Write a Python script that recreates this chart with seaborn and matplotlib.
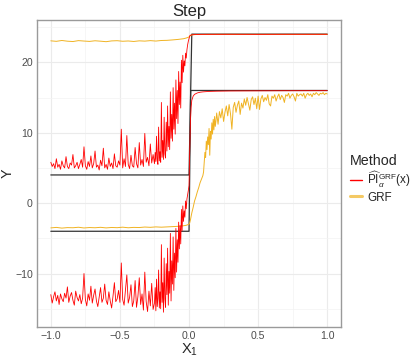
import numpy as np
import pandas as pd
import matplotlib
matplotlib.use("Agg")
import matplotlib.pyplot as plt
from matplotlib.lines import Line2D
import seaborn as sns

sns.set_theme(style="white")
plt.rcParams["font.family"] = ["Liberation Sans", "DejaVu Sans"]
plt.rcParams["mathtext.fontset"] = "custom"
plt.rcParams["mathtext.rm"] = "Liberation Sans"
plt.rcParams["mathtext.it"] = "Liberation Sans:italic"
plt.rcParams["mathtext.bf"] = "Liberation Sans:bold"

# ---------------- data ----------------
x_left = list(np.round(np.arange(-1.00, -0.255, 0.01), 3)) + list(np.round(np.arange(-0.25, -0.0025, 0.005), 3))

pi_up_left = [
    5.8, 5.2, 5.6, 4.9, 6.3, 5.1, 5.5, 4.8, 6.0, 5.3,
    5.0, 6.6, 5.2, 4.9, 5.7, 5.4, 6.9, 5.0, 5.3, 5.8,
    4.9, 5.5, 6.2, 5.1, 8.0, 5.3, 4.8, 5.9, 5.2, 6.7,
    5.0, 5.6, 7.4, 5.1, 5.4, 4.7, 6.1, 5.3, 7.8, 5.0,
    5.5, 4.8, 6.4, 5.2, 5.7, 4.9, 7.0, 5.3, 5.1, 6.0,
    5.4, 10.5, 5.0, 6.3, 5.2, 9.6, 5.5, 4.9, 6.8, 5.3,
    5.1, 7.9, 5.6, 5.0, 8.6, 5.4, 6.2, 5.2, 9.9, 5.8,
    6.5, 5.3, 8.4, 5.7, 6.9,
    5.6, 7.2, 5.9, 9.5, 6.1, 5.5, 10.8, 6.0, 7.3, 5.8,
    14.3, 6.5, 8.9, 6.2, 12.2, 7.0, 6.4, 11.5, 7.4, 13.8,
    8.0, 10.9, 7.6, 15.8, 9.2, 12.6, 8.8, 16.4, 10.5, 14.2,
    9.8, 17.5, 12.0, 16.0, 11.3, 18.7, 14.0, 17.2, 13.5, 20.3,
    17.1, 21.0, 18.6, 20.2, 19.5, 21.3, 20.6, 21.8, 22.5, 23.0,
]
pi_lo_left = [
    -13.0, -14.2, -13.3, -12.6, -13.9, -13.1, -14.4, -12.9, -13.6, -14.0,
    -12.8, -13.5, -11.9, -14.1, -13.2, -12.7, -13.8, -14.5, -12.5, -13.4,
    -13.9, -13.0, -14.3, -13.5, -10.0, -13.7, -14.6, -12.9, -13.8, -11.8,
    -14.2, -13.1, -12.2, -13.9, -14.7, -13.3, -12.0, -14.1, -13.5, -11.5,
    -13.8, -14.4, -12.6, -13.9, -14.9, -13.2, -11.3, -14.0, -13.6, -12.4,
    -14.1, -8.5, -13.7, -14.5, -12.3, -10.2, -14.2, -13.4, -11.6, -14.7,
    -13.9, -11.0, -14.8, -13.3, -10.6, -14.4, -12.9, -15.2, -9.8, -14.0,
    -15.4, -12.5, -14.6, -11.4, -15.1,
    -14.2, -12.0, -15.3, -10.8, -14.7, -13.5, -9.5, -14.9, -12.6, -15.0,
    -5.9, -14.1, -11.3, -15.5, -7.8, -13.6, -14.8, -8.6, -13.0, -6.4,
    -14.5, -9.7, -12.8, -4.3, -13.9, -8.2, -11.5, -4.8, -12.4, -7.1,
    -10.6, -3.6, -9.8, -5.2, -8.4, -2.7, -6.5, -3.2, -5.8, -0.9,
    -3.9, -0.4, -2.6, -1.1, -2.0, 0.3, -0.8, 0.6, 1.2, 1.8,
]

pi_up_right_x = [0.0, 0.005, 0.01, 0.02, 0.04, 0.1, 0.3, 0.5, 0.7, 0.9, 1.0]
pi_up_right_y = [23.4, 23.75, 23.85, 23.9, 23.95, 23.97, 23.98, 23.97, 23.98, 23.97, 23.98]
pi_lo_right_x = [0.0, 0.005, 0.01, 0.015, 0.02, 0.03, 0.04, 0.06, 0.08, 0.1, 0.15, 0.2, 0.3, 0.5, 0.7, 1.0]
pi_lo_right_y = [2.5, 7.5, 11.5, 13.6, 14.6, 15.2, 15.45, 15.65, 15.75, 15.8, 15.87, 15.9, 15.93, 15.95, 15.96, 15.97]

grf_up_x = [-1.00, -0.96, -0.92, -0.88, -0.84, -0.80, -0.76, -0.72, -0.68, -0.64,
            -0.60, -0.56, -0.52, -0.48, -0.44, -0.40, -0.36, -0.32, -0.28, -0.24,
            -0.20, -0.16, -0.12, -0.08, -0.04, -0.02, 0.0, 0.01, 0.02, 0.05,
            0.2, 0.5, 0.8, 1.0]
grf_up_y = [23.05, 22.98, 23.10, 23.00, 22.95, 23.08, 23.02, 22.97, 23.06, 23.00,
            22.93, 23.04, 23.07, 22.99, 23.03, 22.96, 23.05, 23.01, 23.08, 23.02,
            23.10, 23.12, 23.18, 23.25, 23.35, 23.45, 23.60, 23.80, 23.90, 23.95,
            23.97, 23.97, 23.96, 23.97]

grf_lo_x = [-1.00, -0.96, -0.92, -0.88, -0.84, -0.80, -0.76, -0.72, -0.68, -0.64,
            -0.60, -0.56, -0.52, -0.48, -0.44, -0.40, -0.36, -0.32, -0.28, -0.24,
            -0.20, -0.16, -0.12, -0.08, -0.04, -0.02, 0.0,
            0.005, 0.01, 0.02, 0.03, 0.04, 0.05, 0.06, 0.07, 0.08, 0.09, 0.10,
            0.105, 0.11, 0.115, 0.12, 0.125, 0.13, 0.135, 0.14, 0.145, 0.15,
            0.155, 0.16, 0.165, 0.17, 0.175, 0.18, 0.185, 0.19, 0.195, 0.20,
            0.21, 0.22, 0.23, 0.24, 0.25, 0.26, 0.27, 0.28, 0.29, 0.30,
            0.31, 0.32, 0.33, 0.34, 0.35, 0.36, 0.37, 0.38, 0.39, 0.40,
            0.41, 0.42, 0.43, 0.44, 0.45, 0.46, 0.47, 0.48, 0.49, 0.50,
            0.51, 0.52, 0.53, 0.54, 0.55, 0.56, 0.57, 0.58, 0.59, 0.60,
            0.61, 0.62, 0.63, 0.64, 0.65, 0.66, 0.67, 0.68, 0.69, 0.70,
            0.71, 0.72, 0.73, 0.74, 0.75, 0.76, 0.77, 0.78, 0.79, 0.80,
            0.81, 0.82, 0.83, 0.84, 0.85, 0.86, 0.87, 0.88, 0.89, 0.90,
            0.91, 0.92, 0.93, 0.94, 0.95, 0.96, 0.97, 0.98, 0.99, 1.00]
grf_lo_y = [-3.52, -3.45, -3.55, -3.48, -3.50, -3.43, -3.53, -3.47, -3.50, -3.44,
            -3.52, -3.46, -3.49, -3.42, -3.50, -3.45, -3.47, -3.40, -3.44, -3.38,
            -3.42, -3.38, -3.35, -3.30, -3.22, -3.15, -3.00,
            -2.8, -2.4, -1.4, -0.6, 0.3, 0.9, 1.6, 2.2, 2.9, 3.4, 3.9,
            4.4, 5.8, 7.2, 6.5, 8.8, 7.6, 9.4, 8.3, 10.6, 6.8,
            10.2, 9.1, 11.4, 9.8, 11.9, 10.4, 12.3, 10.9, 11.7, 12.8,
            11.2, 13.0, 12.1, 13.4, 11.6, 12.9, 13.8, 12.4, 14.0, 12.7,
            10.5, 13.6, 14.3, 12.9, 13.9, 14.5, 12.6, 14.2, 13.5, 14.8,
            13.9, 15.0, 14.1, 13.2, 14.7, 15.1, 14.0, 14.9, 13.4, 15.2,
            13.3, 14.8, 15.3, 14.4, 15.0, 14.6, 15.4, 14.1, 13.8, 15.2,
            14.9, 15.4, 14.5, 15.1, 15.5, 14.7, 15.3, 15.0, 14.3, 15.4,
            15.2, 15.6, 14.9, 15.3, 15.5, 15.1, 14.5, 15.6, 15.2, 15.4,
            15.5, 15.2, 15.6, 14.9, 15.4, 15.6, 15.3, 15.5, 15.1, 15.6,
            15.4, 15.7, 15.5, 15.3, 15.6, 15.5, 15.7, 15.4, 15.6, 15.5]

true_up_x = [-1.0, 0.0, 0.02, 1.0]
true_up_y = [4.0, 4.0, 24.0, 24.0]
true_lo_x = [-1.0, 0.0, 0.012, 1.0]
true_lo_y = [-4.0, -4.0, 16.0, 16.0]

pi_label = r"$\widehat{\mathrm{PI}}_{\alpha}^{\mathrm{GRF}}\mathrm{(x)}$"
methods = [pi_label, "GRF"]
colors = {pi_label: "#FF0000", "GRF": "#F0B323"}

rows = []
def add(xs, ys, method, bound):
    for xv, yv in zip(xs, ys):
        rows.append({"x": xv, "y": yv, "Method": method, "bound": bound})

add(list(x_left) + pi_up_right_x, pi_up_left + pi_up_right_y, pi_label, "up")
add(list(x_left) + pi_lo_right_x, pi_lo_left + pi_lo_right_y, pi_label, "lo")
add(grf_up_x, grf_up_y, "GRF", "up")
add(grf_lo_x, grf_lo_y, "GRF", "lo")
df = pd.DataFrame(rows)

truth = pd.DataFrame({
    "x": true_up_x + true_lo_x,
    "y": true_up_y + true_lo_y,
    "bound": ["up"] * 4 + ["lo"] * 4,
})

# ---------------- figure ----------------
fig = plt.figure(figsize=(4.12, 3.59), dpi=100)
ax = fig.add_axes([0.0898, 0.0891, 0.738, 0.855])

sns.lineplot(data=truth, x="x", y="y", units="bound", estimator=None, sort=False,
             color="#333333", linewidth=0.9, ax=ax, legend=False)
sns.lineplot(data=df[df.Method == "GRF"], x="x", y="y", units="bound", estimator=None,
             sort=False, color=colors["GRF"], linewidth=0.7, ax=ax, legend=False)
sns.lineplot(data=df[df.Method == pi_label], x="x", y="y", units="bound", estimator=None,
             sort=False, color=colors[pi_label], linewidth=0.6, ax=ax, legend=False)

ax.set_xlim(-1.1, 1.1)
ax.set_ylim(-17.6, 26.0)
ax.set_xticks([-1.0, -0.5, 0.0, 0.5, 1.0])
ax.set_xticklabels(["\u22121.0", "\u22120.5", "0.0", "0.5", "1.0"])
ax.set_yticks([-10, 0, 10, 20])
ax.set_yticklabels(["\u221210", "0", "10", "20"])
ax.set_xticks([-0.75, -0.25, 0.25, 0.75], minor=True)
ax.set_yticks([-15, -5, 5, 15, 25], minor=True)
ax.grid(True, which="major", color="#EBEBEB", linewidth=0.8)
ax.grid(True, which="minor", color="#F3F3F3", linewidth=0.5)
ax.set_axisbelow(True)
for s in ax.spines.values():
    s.set_color("#9A9A9A")
    s.set_linewidth(1.0)
ax.tick_params(axis="both", which="major", length=2, width=0.8, color="#9A9A9A",
               labelsize=7.6, labelcolor="#4D4D4D", pad=1)
ax.tick_params(axis="both", which="minor", length=0)

ax.set_xlabel(r"$\mathrm{X}_1$", fontsize=10.5)
ax.xaxis.set_label_coords(0.503, -0.048)
ax.set_ylabel("Y", fontsize=10.3)
ax.yaxis.set_label_coords(-0.074, 0.5)
ax.set_title("Step", fontsize=12, pad=3)

handles = [Line2D([], [], color=colors[pi_label], linewidth=1.0),
           Line2D([], [], color=colors["GRF"], linewidth=2.2, alpha=0.7)]
leg = fig.legend(handles, methods, title="Method", loc="upper left",
                 bbox_to_anchor=(0.838, 0.585), frameon=False, fontsize=8.4,
                 title_fontsize=10.3, handlelength=1.0, handletextpad=0.5,
                 labelspacing=0.15, borderaxespad=0)
leg._legend_box.align = "left"

fig.savefig("out.png", dpi=100)
